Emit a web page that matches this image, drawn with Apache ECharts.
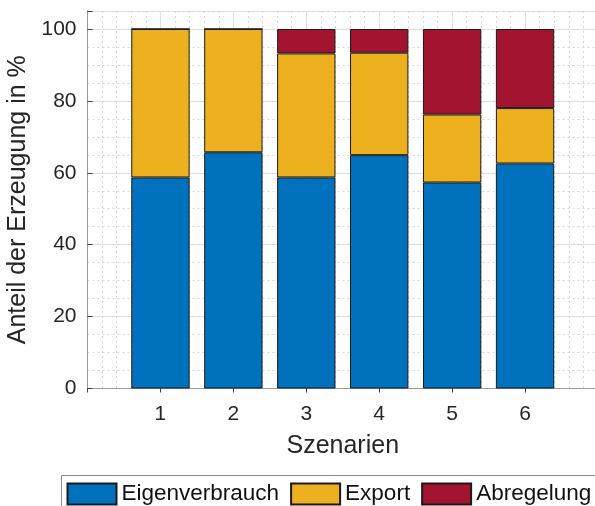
<!DOCTYPE html>
<html>
<head>
<meta charset="utf-8">
<script src="https://cdn.jsdelivr.net/npm/echarts@6/dist/echarts.min.js"></script>
<style>html,body{margin:0;padding:0;background:#fff;}#c{width:595px;height:506px;}</style>
</head>
<body>
<div id="c"></div>
<script>
var scenarios = ['1', '2', '3', '4', '5', '6'];
var eigenverbrauch = [58.7, 65.7, 58.7, 64.9, 57.3, 62.6];
var exportShare = [41.3, 34.3, 34.5, 28.5, 18.9, 15.4];
var abregelung = [0, 0, 6.8, 6.6, 23.8, 22.0];
var yTicks = [0, 20, 40, 60, 80, 100];
var seriesNames = ['Eigenverbrauch', 'Export', 'Abregelung'];
var colors = ['#0072BD', '#EDB120', '#A2142F'];

var font = '"Liberation Sans", Arial, sans-serif';
var txt = '#262626';

var chart = echarts.init(document.getElementById('c'));
var allSeries = [eigenverbrauch, exportShare, abregelung].map(function (vals, k) {
  return {
    name: seriesNames[k], type: 'bar', stack: 'total', barWidth: '80%',
    xAxisIndex: 2, yAxisIndex: 2,
    data: vals,
    itemStyle: { color: colors[k], borderColor: '#1a1a1a', borderWidth: 1 },
    emphasis: { disabled: true }, animation: false
  };
});
chart.setOption({
  animation: false,
  textStyle: { fontFamily: font },
  grid: [
    { left: 87.5, top: 11, right: -3, bottom: 117.5, containLabel: false, outerBoundsMode: 'none' },
    { left: 124, top: 11, right: 33.5, bottom: 117.5, containLabel: false, outerBoundsMode: 'none' }
  ],
  graphic: [{
    type: 'rect', z: -1, silent: true,
    shape: { x: 61.5, y: 475.5, width: 700, height: 60 },
    style: { fill: '#fff', stroke: '#8c8c8c', lineWidth: 1 }
  }],
  legend: {
    left: 66.5, top: 482.5, padding: 0, itemGap: 11, itemWidth: 49, itemHeight: 21,
    icon: 'rect', selectedMode: false,
    textStyle: { fontFamily: font, fontSize: 22.5, color: '#111' },
    data: seriesNames
  },
  xAxis: [{
    gridIndex: 0, type: 'value', position: 'bottom', min: 0, max: 7, interval: 1,
    axisLine: { show: true, lineStyle: { color: '#404040', width: 1 } },
    axisTick: { show: false },
    axisLabel: { show: false },
    splitLine: { show: true, lineStyle: { color: '#e2e2e2', width: 1 } },
    minorTick: { show: false, splitNumber: 5 },
    minorSplitLine: { show: true, lineStyle: { color: '#d6d6d6', width: 1, type: [2, 3] } },
    name: 'Szenarien', nameLocation: 'middle', nameGap: 45,
    nameTextStyle: { fontSize: 25, color: txt, fontFamily: font }
  }, {
    gridIndex: 0, type: 'value', position: 'top', min: 0, max: 7, interval: 1,
    axisLine: { show: true, lineStyle: { color: '#9a9a9a', width: 1 } },
    axisTick: { show: true, inside: true, length: 4, lineStyle: { color: '#404040' } },
    axisLabel: { show: false }, splitLine: { show: false }
  }, {
    gridIndex: 1, type: 'category', position: 'bottom', data: scenarios, boundaryGap: true,
    axisLine: { show: false },
    axisTick: { show: true, inside: true, alignWithLabel: true, length: 5, lineStyle: { color: '#404040' } },
    axisLabel: { show: true, margin: 15, fontSize: 21, color: txt, fontFamily: font },
    splitLine: { show: false }
  }],
  yAxis: [{
    gridIndex: 0, type: 'value', position: 'left', min: 0, max: 105, interval: 20,
    axisLine: { show: true, lineStyle: { color: '#262626', width: 1 } },
    axisTick: { show: true, inside: true, length: 5, lineStyle: { color: '#404040' } },
    axisLabel: { show: true, margin: 11, fontSize: 21, color: txt, fontFamily: font,
      formatter: function (v) { return yTicks.indexOf(v) >= 0 ? String(v) : ''; } },
    splitLine: { show: true, lineStyle: { color: '#e2e2e2', width: 1 } },
    name: 'Anteil der Erzeugung in %', nameLocation: 'middle', nameGap: 55,
    nameTextStyle: { fontSize: 25, color: txt, fontFamily: font }
  }, {
    gridIndex: 0, type: 'value', position: 'right', min: 0, max: 105, interval: 5,
    axisLine: { show: true, lineStyle: { color: '#9a9a9a', width: 1 } },
    axisTick: { show: false }, axisLabel: { show: false },
    splitLine: { show: true, lineStyle: { color: '#d6d6d6', width: 1, type: [2, 3] } }
  }, {
    gridIndex: 1, type: 'value', min: 0, max: 105, show: false,
    splitLine: { show: false }
  }],
  series: allSeries
});
</script>
</body>
</html>
